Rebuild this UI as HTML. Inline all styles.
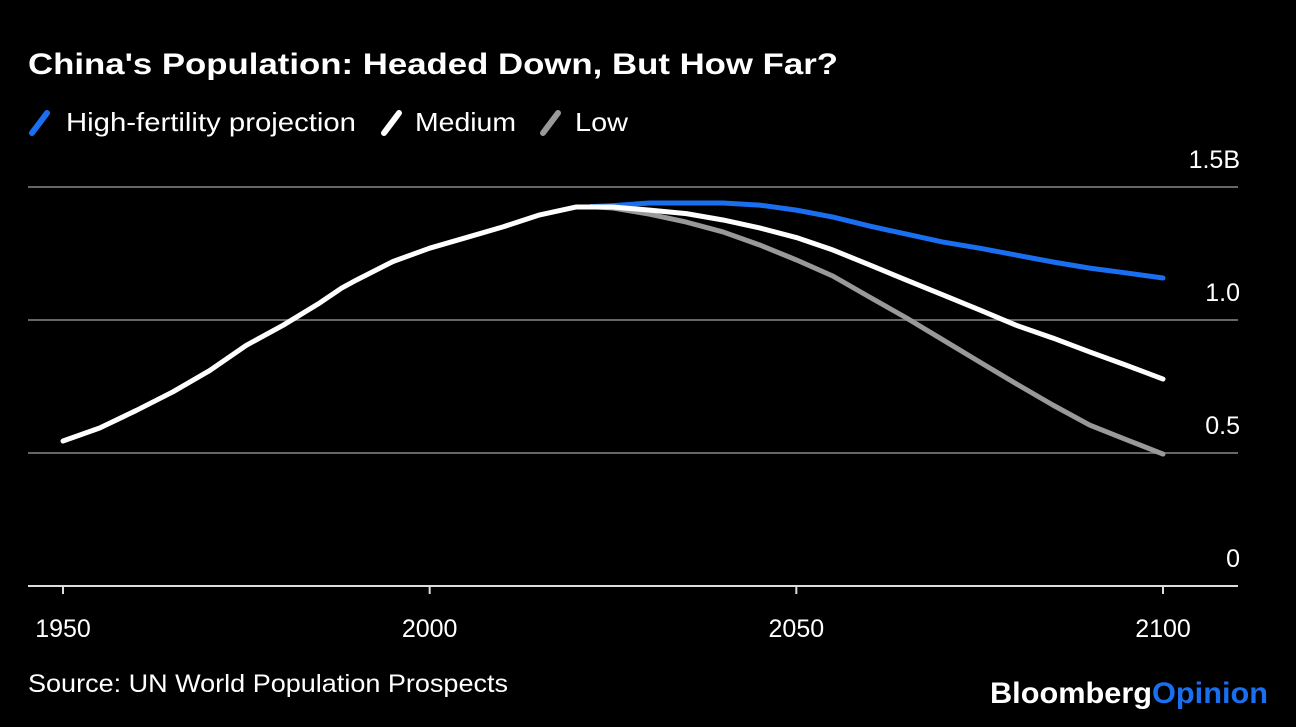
<!DOCTYPE html>
<html><head><meta charset="utf-8"><style>
body{margin:0;background:#000;width:1296px;height:722px;overflow:hidden;font-family:"Liberation Sans",Arial,sans-serif;color:#fff}
</style></head><body>
<svg width="1296" height="722">
<text x="28" y="74" font-size="30" font-weight="bold" fill="#fff" textLength="810" lengthAdjust="spacingAndGlyphs">China's Population: Headed Down, But How Far?</text>
<g font-size="26" fill="#fff">
<line x1="32" y1="133" x2="47" y2="113" stroke="#1a6ff0" stroke-width="6" stroke-linecap="round"/>
<text x="66" y="131" textLength="290" lengthAdjust="spacingAndGlyphs">High-fertility projection</text>
<line x1="384" y1="133" x2="399" y2="113" stroke="#fff" stroke-width="6" stroke-linecap="round"/>
<text x="415" y="131" textLength="101" lengthAdjust="spacingAndGlyphs">Medium</text>
<line x1="543" y1="133" x2="558" y2="113" stroke="#999" stroke-width="6" stroke-linecap="round"/>
<text x="575" y="131" textLength="53" lengthAdjust="spacingAndGlyphs">Low</text>
</g>
<g id="grid"></g><g id="series"></g>
<text x="28" y="692" font-size="25" fill="#fff" textLength="480" lengthAdjust="spacingAndGlyphs">Source: UN World Population Prospects</text>
<text x="990" y="703" font-size="30" font-weight="bold" textLength="278" lengthAdjust="spacingAndGlyphs"><tspan fill="#fff">Bloomberg</tspan><tspan fill="#1a6ff0">Opinion</tspan></text>
</svg>
<script>
const yTicks=[0,0.5,1.0,1.5];
const yTickLabels=["0","0.5","1.0","1.5B"];
const xTicks=[1950,2000,2050,2100];
const medYears=[1950,1955,1960,1965,1970,1975,1980,1985,1988,1990,1995,2000,2005,2010,2015,2020,2025,2030,2035,2040,2045,2050,2055,2060,2065,2070,2075,2080,2085,2090,2095,2100];
const medium=[0.545,0.594,0.66,0.73,0.81,0.905,0.98,1.064,1.12,1.15,1.22,1.27,1.31,1.35,1.395,1.425,1.425,1.413,1.40,1.376,1.346,1.31,1.263,1.207,1.15,1.094,1.038,0.98,0.932,0.88,0.83,0.778];
const projYears=[2022,2025,2030,2035,2040,2045,2050,2055,2060,2065,2070,2075,2080,2085,2090,2095,2100];
const high=[1.426,1.43,1.44,1.44,1.44,1.432,1.413,1.387,1.353,1.323,1.293,1.27,1.244,1.218,1.195,1.177,1.158];
const low=[1.426,1.421,1.398,1.368,1.331,1.282,1.226,1.165,1.086,1.008,0.925,0.842,0.76,0.68,0.605,0.55,0.496];
const X=y=>63+(y-1950)*1100/150;
const Y=v=>586-v*266;
const NS="http://www.w3.org/2000/svg";
const grid=document.getElementById('grid'),ser=document.getElementById('series');
function mk(tag,attrs,parent){const e=document.createElementNS(NS,tag);for(const k in attrs)e.setAttribute(k,attrs[k]);parent.appendChild(e);return e;}
yTicks.forEach((t,i)=>{
 const l=mk('line',{x1:28,x2:1238,y1:Y(t),y2:Y(t),stroke:t===0?'#ddd':'#666','stroke-width':2},grid);
 
 
 const tx=mk('text',{x:1240,y:Y(t)-19,'font-size':25,'text-anchor':'end',fill:'#fff'},grid);
 tx.textContent=yTickLabels[i];
 
 
});
xTicks.forEach(t=>{
 const tk=mk('line',{x1:X(t),x2:X(t),y1:586,y2:594,stroke:'#ddd','stroke-width':2},grid);
 
 
 const tx=mk('text',{x:X(t),y:637,'font-size':25,'text-anchor':'middle',fill:'#fff'},grid);
 tx.textContent=t;
 
 
});
function line(years,vals,color,name){
 const p=mk('polyline',{points:years.map((y,i)=>X(y)+','+Y(vals[i])).join(' '),fill:'none',stroke:color,'stroke-width':5,'stroke-linejoin':'round','stroke-linecap':'round'},ser);
 
 
}
line(projYears,low,'#999','low-line');
line(projYears,high,'#1a6ff0','high-fertility-line');
line(medYears,medium,'#fff','medium-line');
</script>
</body></html>
